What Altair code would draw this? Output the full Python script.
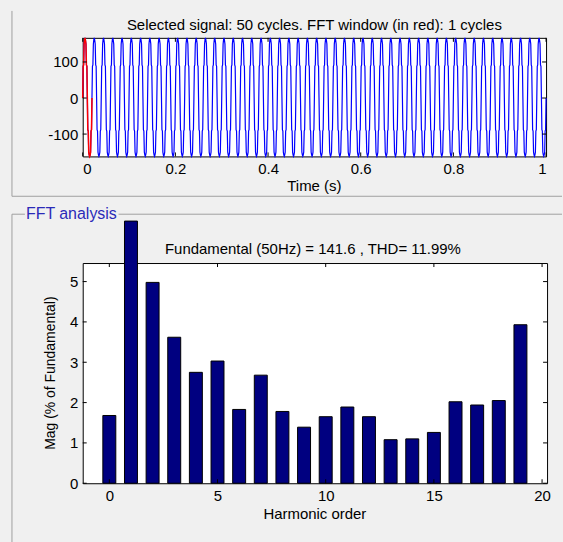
import altair as alt
import pandas as pd
import numpy as np

# ---------------- data ----------------
# one cycle of the (stepped) measured signal, 1 ms per sample, 50 Hz
cycle_levels = [0, 88, 92, 150, 162, 167, 160, 150, 92, 88,
                0, -88, -92, -150, -158, -162, -158, -150, -92, -88]
n_cycles = 50
sample_dt = 0.001
fft_cycles = 1

harmonic_order = list(range(20))
harmonic_mag = [1.68, 6.5, 4.98, 3.62, 2.75, 3.03, 1.83, 2.68, 1.78, 1.39,
                1.65, 1.89, 1.65, 1.08, 1.10, 1.26, 2.02, 1.94, 2.05, 3.93]

time_ticks = [0, 0.2, 0.4, 0.6, 0.8, 1]
signal_ticks = [-100, 0, 100]
order_ticks = [0, 5, 10, 15, 20]
mag_ticks = [0, 1, 2, 3, 4, 5]

top_title = "Selected signal: 50 cycles. FFT window (in red): 1 cycles"
bottom_title = "Fundamental (50Hz) = 141.6 , THD= 11.99%"
group_label = "FFT analysis"

# ---------------- tables ----------------
levels = list(np.tile(cycle_levels, n_cycles)) + [cycle_levels[0]]
sig = pd.DataFrame({"t": np.arange(len(levels)) * sample_dt, "v": levels})
win = sig[sig["t"] <= fft_cycles * len(cycle_levels) * sample_dt + 1e-9]
harm = pd.DataFrame({"order": harmonic_order, "mag": harmonic_mag})
one = pd.DataFrame({"k": [0]})

FONT = "Liberation Sans"
TFS = 15
W1, H1 = 465, 119
W2, H2 = 466, 221
FRAME = "#a0a0a0"
TL = 4

xs1 = alt.Scale(domain=[0, 1], nice=False)
ys1 = alt.Scale(domain=[-162, 167], nice=False)
xs2 = alt.Scale(domain=[-1, 20], nice=False)
ys2 = alt.Scale(domain=[0, 5.46], nice=False)

ax_t = alt.Axis(values=time_ticks, labelExpr="datum.value + ''", title=None)
ax_v = alt.Axis(values=signal_ticks, labelExpr="datum.value + ''", title=None)
ax_o = alt.Axis(values=order_ticks, labelExpr="datum.value + ''", title=None)
ax_m = alt.Axis(values=mag_ticks, labelExpr="datum.value + ''", title=None)

def txt(s, x, y, size=TFS, **kw):
    return alt.Chart(one).mark_text(text=s, font=FONT, fontSize=size, color="black",
                                    baseline="middle", **kw).encode(
        x=alt.value(x), y=alt.value(y))

def rule(x, y, x2=None, y2=None, color=FRAME):
    enc = dict(x=alt.value(x), y=alt.value(y))
    if x2 is not None:
        enc["x2"] = alt.value(x2)
    if y2 is not None:
        enc["y2"] = alt.value(y2)
    return alt.Chart(one).mark_rule(color=color, strokeWidth=1).encode(**enc)

# ---------------- top panel ----------------
bbox = alt.Chart(one).mark_rect(opacity=0).encode(
    x=alt.value(-82), x2=alt.value(481), y=alt.value(-36), y2=alt.value(506))

blue = alt.Chart(sig).mark_line(color="#0000ff", strokeWidth=1.2).encode(
    x=alt.X("t:Q", scale=xs1, axis=ax_t),
    y=alt.Y("v:Q", scale=ys1, axis=ax_v),
)
red = alt.Chart(win).mark_line(color="#ff0000", strokeWidth=1.5).encode(
    x=alt.X("t:Q", scale=xs1, axis=ax_t), y=alt.Y("v:Q", scale=ys1, axis=ax_v))

tx1 = pd.DataFrame({"t": time_ticks})
ty1 = pd.DataFrame({"v": signal_ticks})
ticks1 = [
    alt.Chart(tx1).mark_rule(color="black").encode(
        x=alt.X("t:Q", scale=xs1, axis=ax_t), y=alt.value(H1), y2=alt.value(H1 - TL)),
    alt.Chart(tx1).mark_rule(color="black").encode(
        x=alt.X("t:Q", scale=xs1, axis=ax_t), y=alt.value(0), y2=alt.value(TL)),
    alt.Chart(ty1).mark_rule(color="black").encode(
        y=alt.Y("v:Q", scale=ys1, axis=ax_v), x=alt.value(0), x2=alt.value(TL)),
    alt.Chart(ty1).mark_rule(color="black").encode(
        y=alt.Y("v:Q", scale=ys1, axis=ax_v), x=alt.value(W1), x2=alt.value(W1 - TL)),
]

top = alt.layer(
    bbox,
    rule(-71, -27, y2=159),
    rule(-71, 159, x2=481),
    blue, red, *ticks1,
    txt(top_title, W1 / 2, -13, align="center"),
    txt("Time (s)", W1 / 2, 149, align="center"),
).properties(width=W1, height=H1)

# ---------------- bottom panel ----------------
bars = alt.Chart(harm).mark_bar(size=13, color="#000080", stroke="black", strokeWidth=1).encode(
    x=alt.X("order:Q", scale=xs2, axis=ax_o),
    y=alt.Y("mag:Q", scale=ys2, axis=ax_m),
)
tx2 = pd.DataFrame({"order": order_ticks})
ty2 = pd.DataFrame({"mag": mag_ticks})
ticks2 = [
    alt.Chart(tx2).mark_rule(color="black").encode(
        x=alt.X("order:Q", scale=xs2, axis=ax_o), y=alt.value(H2), y2=alt.value(H2 - TL)),
    alt.Chart(tx2).mark_rule(color="black").encode(
        x=alt.X("order:Q", scale=xs2, axis=ax_o), y=alt.value(0), y2=alt.value(TL)),
    alt.Chart(ty2).mark_rule(color="black").encode(
        y=alt.Y("mag:Q", scale=ys2, axis=ax_m), x=alt.value(0), x2=alt.value(TL)),
    alt.Chart(ty2).mark_rule(color="black").encode(
        y=alt.Y("mag:Q", scale=ys2, axis=ax_m), x=alt.value(W2), x2=alt.value(W2 - TL)),
]

bottom = alt.layer(
    rule(-71, -49, x2=-58),
    rule(36, -49, x2=481),
    rule(-71, -49, y2=280),
    bars, *ticks2,
    alt.Chart(one).mark_text(text=group_label, font=FONT, fontSize=16, color="#2a2ab8",
                             baseline="middle", align="left").encode(
        x=alt.value(-57), y=alt.value(-49)),
    txt(bottom_title, 231, -14, align="center"),
    txt("Harmonic order", W2 / 2, 252, align="center"),
    txt("Mag (% of Fundamental)", -32, H2 / 2, size=14, align="center", angle=270),
).properties(width=W2, height=H2)

chart = alt.vconcat(top, bottom, spacing=107, bounds="flush").properties(
    padding=0, background="#f0f0f0"
).configure_view(
    fill="white", stroke="black", strokeWidth=1
).configure_axis(
    labelFont=FONT, labelFontSize=15, labelColor="black",
    ticks=False, tickSize=0, domain=False, grid=False, labelPadding=5,
)

chart.save("out.html", embed_options={"renderer": "svg", "actions": False})
